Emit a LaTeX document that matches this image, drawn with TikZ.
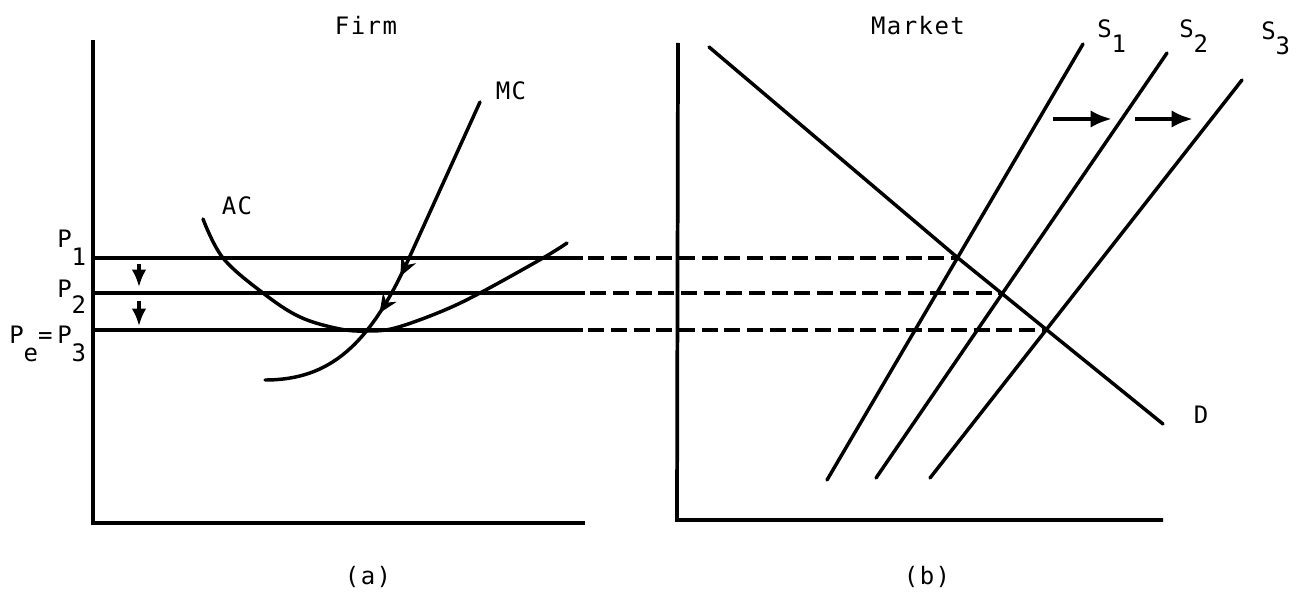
\documentclass[tikz,border=0pt]{standalone}
\usepackage{fontspec}
\newfontfamily\tw[LetterSpace=6]{DejaVu Sans Mono}
\usetikzlibrary{arrows.meta,decorations.markings}
\begin{document}
\begin{tikzpicture}[x=0.75pt,y=-0.75pt,
  axis/.style={line width=2.8pt},
  curve/.style={line width=2.6pt, line cap=round},
  pline/.style={line width=3pt},
  dline/.style={line width=3pt, dash pattern=on 12pt off 5pt, dash phase=13pt},
  lbl/.style={font=\tw\fontsize{18}{20}\selectfont, inner sep=0pt},
  bigarrow/.style={line width=3.4pt, -{Latex[length=16pt,width=13pt]}},
  smallarrow/.style={line width=3pt, -{Latex[length=13pt,width=11pt]}},
  tipmark/.style={postaction={decorate}, decoration={markings,
     mark=at position 0.514 with {\arrow{Stealth[length=14pt,width=12pt]}},
     mark=at position 0.627 with {\arrow{Stealth[length=14pt,width=12pt]}}}}
  ]
\useasboundingbox (0,0) rectangle (1298,599);

% axes
\coordinate (aTop) at (93,40);
\coordinate (aO) at (93,523);
\coordinate (aEnd) at (585,523);
\draw[axis] (aTop) -- (aO) -- (aEnd);
\coordinate (bTop) at (678,43);
\coordinate (bO) at (677,520);
\coordinate (bEnd) at (1163,520);
\draw[axis] (bTop) -- (bO) -- (bEnd);

% titles and captions
\node[lbl] (firm) at (366,25) {Firm};
\node[lbl] (market) at (918,26) {Market};
\node[lbl] (capa) at (368,577) {(a)};
\node[lbl] (capb) at (927,577) {(b)};

% intersections on D
\coordinate (d0) at (709,47);
\coordinate (i1) at (958,258);
\coordinate (i2) at (1002,293);
\coordinate (i3) at (1047,330);
\coordinate (dEnd) at (1163,424);

% price lines
\coordinate (p1a) at (93,258);
\coordinate (p1s) at (583,258);
\coordinate (p2a) at (93,293);
\coordinate (p2s) at (585,293);
\coordinate (p3a) at (93,330);
\coordinate (p3s) at (583,330);
\draw[pline] (p1a) -- (p1s);
\draw[pline] (p2a) -- (p2s);
\draw[pline] (p3a) -- (p3s);
\draw[dline] (p1s) -- (i1);
\draw[dline] (p2s) -- (i2);
\draw[dline] (p3s) -- (i3);

% price labels
\node[lbl, anchor=base west] (lp1) at (57,247) {P\raisebox{-13.5pt}{1}};
\node[lbl, anchor=base west] (lp2) at (57,297) {P\raisebox{-12pt}{2}};
\node[lbl, anchor=base west] (lpe) at (9,343) {P\raisebox{-14pt}{e}=};
\node[lbl, anchor=base west] (lp3) at (57,343) {P\raisebox{-14pt}{3}};

% small down arrows
\coordinate (da1s) at (139,264);
\coordinate (da1e) at (139,287);
\coordinate (da2s) at (139,301);
\coordinate (da2e) at (139,326);
\draw[smallarrow] (da1s) -- (da1e);
\draw[smallarrow] (da2s) -- (da2e);

% AC curve
\draw[curve] plot[smooth, tension=0.6] coordinates
  {(203,219) (223,258) (263,293) (300,317) (340,329) (368,331) (395,328) (440,312) (480,293) (543,258) (567,243)};
\node[lbl] (lac) at (237,206) {AC};

% MC curve (drawn downward so the marks point down)
\coordinate (mcTop) at (480,102);
\coordinate (mcMid) at (410,256);
\coordinate (mcEnd) at (265,380);
\draw[curve, tipmark] (mcTop) -- (mcMid) .. controls (370,345) and (330,380) .. (mcEnd);
\node[lbl] (lmc) at (511,91) {MC};

% demand
\draw[curve] (d0) -- (i1) -- (dEnd);
\node[lbl] (ld) at (1201,415) {D};

% supplies
\coordinate (s1b) at (827,480);
\coordinate (s1t) at (1083,44);
\coordinate (s2b) at (876,478);
\coordinate (s2t) at (1167,53);
\coordinate (s3b) at (930,478);
\coordinate (s3t) at (1242,80);
\draw[curve] (s1b) -- (s1t);
\draw[curve] (s2b) -- (s2t);
\draw[curve] (s3b) -- (s3t);
\node[lbl, anchor=base west] (ls1) at (1097,38) {S\raisebox{-11pt}{1}};
\node[lbl, anchor=base west] (ls2) at (1179,38) {S\raisebox{-11pt}{2}};
\node[lbl, anchor=base west] (ls3) at (1261,40) {S\raisebox{-11pt}{3}};

% shift arrows
\coordinate (ra1s) at (1053,119);
\coordinate (ra1e) at (1112,119);
\coordinate (ra2s) at (1135,119);
\coordinate (ra2e) at (1193,119);
\draw[bigarrow] (ra1s) -- (ra1e);
\draw[bigarrow] (ra2s) -- (ra2e);
\end{tikzpicture}
\end{document}
